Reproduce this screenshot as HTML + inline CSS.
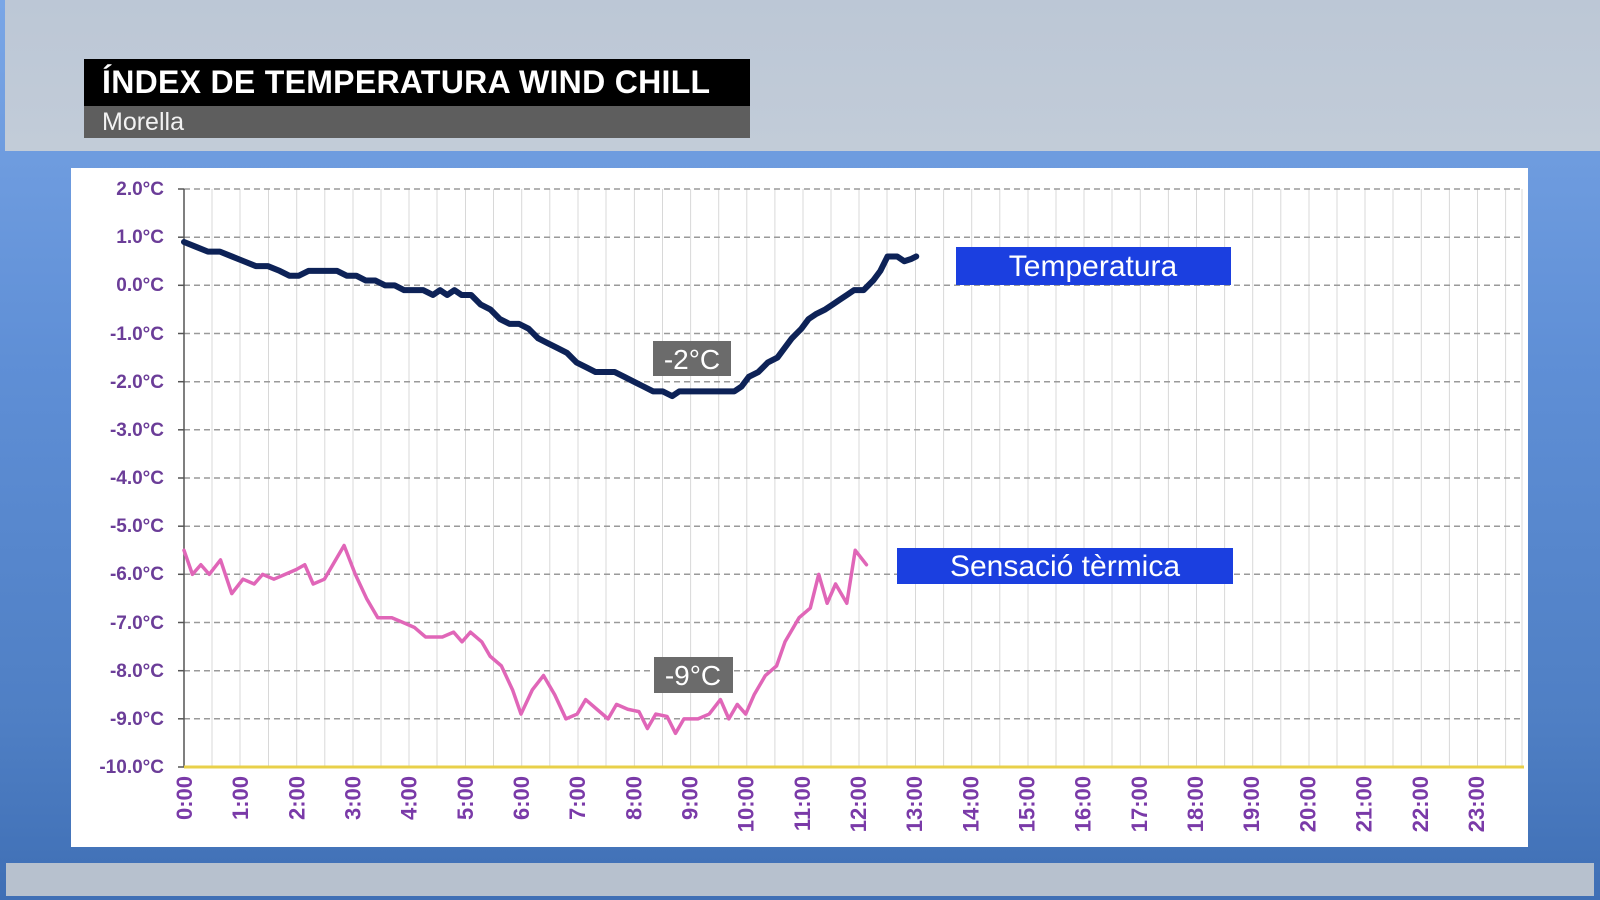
<!DOCTYPE html>
<html><head><meta charset="utf-8"><style>
html,body{margin:0;padding:0;width:1600px;height:900px;overflow:hidden;font-family:"Liberation Sans",sans-serif}
.bg{position:absolute;left:0;top:0;width:1600px;height:900px;background:linear-gradient(180deg,#7aa6e6 0%,#5f8fd6 40%,#4f7fc4 80%,#3f6fb5 100%)}
.top{position:absolute;left:5px;top:0;width:1595px;height:151px;background:linear-gradient(180deg,#bcc7d6,#c2ccd8)}
.bot{position:absolute;left:6px;top:863px;width:1588px;height:33px;background:#b7c1ce}
.t1{position:absolute;left:84px;top:59px;width:666px;height:47px;background:#000;color:#fff;font-size:32px;font-weight:bold;line-height:47px;padding-left:18px;box-sizing:border-box;letter-spacing:0.3px}
.t2{position:absolute;left:84px;top:106px;width:666px;height:32px;background:#5e5e5e;color:#f2f2f2;font-size:25px;line-height:32px;padding-left:18px;box-sizing:border-box}
.panel{position:absolute;left:71px;top:168px;width:1457px;height:679px;background:#fff}
</style></head><body>
<div class="bg"></div>
<div class="top"></div>
<div class="bot"></div>
<div class="t1">ÍNDEX DE TEMPERATURA WIND CHILL</div>
<div class="t2">Morella</div>
<div class="panel"></div>
<svg width="1600" height="900" style="position:absolute;left:0;top:0">
<g stroke="#d8d8d8" stroke-width="1">
<line x1="184" y1="189" x2="184" y2="767"/><line x1="212" y1="189" x2="212" y2="767"/><line x1="240" y1="189" x2="240" y2="767"/><line x1="268.5" y1="189" x2="268.5" y2="767"/><line x1="296.7" y1="189" x2="296.7" y2="767"/><line x1="324.8" y1="189" x2="324.8" y2="767"/><line x1="353" y1="189" x2="353" y2="767"/><line x1="381" y1="189" x2="381" y2="767"/><line x1="409" y1="189" x2="409" y2="767"/><line x1="437" y1="189" x2="437" y2="767"/><line x1="465.5" y1="189" x2="465.5" y2="767"/><line x1="493.5" y1="189" x2="493.5" y2="767"/><line x1="521.7" y1="189" x2="521.7" y2="767"/><line x1="549.8" y1="189" x2="549.8" y2="767"/><line x1="578" y1="189" x2="578" y2="767"/><line x1="606" y1="189" x2="606" y2="767"/><line x1="634.4" y1="189" x2="634.4" y2="767"/><line x1="662.5" y1="189" x2="662.5" y2="767"/><line x1="690.6" y1="189" x2="690.6" y2="767"/><line x1="718.7" y1="189" x2="718.7" y2="767"/><line x1="746.8" y1="189" x2="746.8" y2="767"/><line x1="774.9" y1="189" x2="774.9" y2="767"/><line x1="803" y1="189" x2="803" y2="767"/><line x1="831" y1="189" x2="831" y2="767"/><line x1="859" y1="189" x2="859" y2="767"/><line x1="887" y1="189" x2="887" y2="767"/><line x1="915.5" y1="189" x2="915.5" y2="767"/><line x1="943.6" y1="189" x2="943.6" y2="767"/><line x1="971.7" y1="189" x2="971.7" y2="767"/><line x1="999.8" y1="189" x2="999.8" y2="767"/><line x1="1028" y1="189" x2="1028" y2="767"/><line x1="1056" y1="189" x2="1056" y2="767"/><line x1="1084" y1="189" x2="1084" y2="767"/><line x1="1112" y1="189" x2="1112" y2="767"/><line x1="1140.3" y1="189" x2="1140.3" y2="767"/><line x1="1168.4" y1="189" x2="1168.4" y2="767"/><line x1="1196.5" y1="189" x2="1196.5" y2="767"/><line x1="1224.6" y1="189" x2="1224.6" y2="767"/><line x1="1252.7" y1="189" x2="1252.7" y2="767"/><line x1="1280.8" y1="189" x2="1280.8" y2="767"/><line x1="1309" y1="189" x2="1309" y2="767"/><line x1="1337" y1="189" x2="1337" y2="767"/><line x1="1365" y1="189" x2="1365" y2="767"/><line x1="1393" y1="189" x2="1393" y2="767"/><line x1="1421.3" y1="189" x2="1421.3" y2="767"/><line x1="1449.4" y1="189" x2="1449.4" y2="767"/><line x1="1477.5" y1="189" x2="1477.5" y2="767"/><line x1="1505.6" y1="189" x2="1505.6" y2="767"/>
<line x1="1522" y1="189" x2="1522" y2="767"/>
</g>
<g stroke="#9a9a9a" stroke-width="1.5" stroke-dasharray="6,4">
<line x1="184" y1="189" x2="1522" y2="189"/><line x1="184" y1="237.2" x2="1522" y2="237.2"/><line x1="184" y1="285.3" x2="1522" y2="285.3"/><line x1="184" y1="333.5" x2="1522" y2="333.5"/><line x1="184" y1="381.7" x2="1522" y2="381.7"/><line x1="184" y1="429.8" x2="1522" y2="429.8"/><line x1="184" y1="478" x2="1522" y2="478"/><line x1="184" y1="526.2" x2="1522" y2="526.2"/><line x1="184" y1="574.3" x2="1522" y2="574.3"/><line x1="184" y1="622.5" x2="1522" y2="622.5"/><line x1="184" y1="670.7" x2="1522" y2="670.7"/><line x1="184" y1="718.8" x2="1522" y2="718.8"/>
</g>
<line x1="184" y1="189" x2="184" y2="767" stroke="#555" stroke-width="1.5"/>
<g stroke="#555" stroke-width="1.5">
<line x1="178" y1="189" x2="184" y2="189"/><line x1="178" y1="237.2" x2="184" y2="237.2"/><line x1="178" y1="285.3" x2="184" y2="285.3"/><line x1="178" y1="333.5" x2="184" y2="333.5"/><line x1="178" y1="381.7" x2="184" y2="381.7"/><line x1="178" y1="429.8" x2="184" y2="429.8"/><line x1="178" y1="478" x2="184" y2="478"/><line x1="178" y1="526.2" x2="184" y2="526.2"/><line x1="178" y1="574.3" x2="184" y2="574.3"/><line x1="178" y1="622.5" x2="184" y2="622.5"/><line x1="178" y1="670.7" x2="184" y2="670.7"/><line x1="178" y1="718.8" x2="184" y2="718.8"/><line x1="178" y1="767" x2="184" y2="767"/>
</g>
<line x1="184" y1="767" x2="1524" y2="767" stroke="#e8d04a" stroke-width="3"/>
<g font-family="Liberation Sans, sans-serif" font-weight="bold" font-size="19" fill="#6b3d98" text-anchor="end">
<text x="164" y="195">2.0°C</text><text x="164" y="243">1.0°C</text><text x="164" y="291">0.0°C</text><text x="164" y="340">-1.0°C</text><text x="164" y="388">-2.0°C</text><text x="164" y="436">-3.0°C</text><text x="164" y="484">-4.0°C</text><text x="164" y="532">-5.0°C</text><text x="164" y="580">-6.0°C</text><text x="164" y="629">-7.0°C</text><text x="164" y="677">-8.0°C</text><text x="164" y="725">-9.0°C</text><text x="164" y="773">-10.0°C</text>
</g>
<g font-family="Liberation Sans, sans-serif" font-weight="bold" font-size="22" fill="#7a3aa8" text-anchor="end">
<text transform="translate(192,776) rotate(-90)">0:00</text>
<text transform="translate(248.2,776) rotate(-90)">1:00</text>
<text transform="translate(304.3,776) rotate(-90)">2:00</text>
<text transform="translate(360.5,776) rotate(-90)">3:00</text>
<text transform="translate(416.7,776) rotate(-90)">4:00</text>
<text transform="translate(472.9,776) rotate(-90)">5:00</text>
<text transform="translate(529,776) rotate(-90)">6:00</text>
<text transform="translate(585.2,776) rotate(-90)">7:00</text>
<text transform="translate(641.4,776) rotate(-90)">8:00</text>
<text transform="translate(697.5,776) rotate(-90)">9:00</text>
<text transform="translate(753.7,776) rotate(-90)">10:00</text>
<text transform="translate(809.9,776) rotate(-90)">11:00</text>
<text transform="translate(866,776) rotate(-90)">12:00</text>
<text transform="translate(922.2,776) rotate(-90)">13:00</text>
<text transform="translate(978.4,776) rotate(-90)">14:00</text>
<text transform="translate(1034.6,776) rotate(-90)">15:00</text>
<text transform="translate(1090.7,776) rotate(-90)">16:00</text>
<text transform="translate(1146.9,776) rotate(-90)">17:00</text>
<text transform="translate(1203.1,776) rotate(-90)">18:00</text>
<text transform="translate(1259.2,776) rotate(-90)">19:00</text>
<text transform="translate(1315.4,776) rotate(-90)">20:00</text>
<text transform="translate(1371.6,776) rotate(-90)">21:00</text>
<text transform="translate(1427.8,776) rotate(-90)">22:00</text>
<text transform="translate(1484,776) rotate(-90)">23:00</text>
</g>
<g transform="translate(184,189) scale(47.86,-48.17) translate(0,-2)" fill="none" stroke-linejoin="round" stroke-linecap="round">
<polyline vector-effect="non-scaling-stroke" stroke="#0d2257" stroke-width="6" points="0,0.9 0.25,0.8 0.5,0.7 0.75,0.7 1,0.6 1.25,0.5 1.5,0.4 1.75,0.4 2,0.3 2.2,0.2 2.4,0.2 2.6,0.3 2.8,0.3 3.2,0.3 3.4,0.2 3.6,0.2 3.8,0.1 4,0.1 4.2,0 4.4,0 4.6,-0.1 4.8,-0.1 5,-0.1 5.2,-0.2 5.35,-0.1 5.5,-0.2 5.65,-0.1 5.8,-0.2 6,-0.2 6.2,-0.4 6.4,-0.5 6.6,-0.7 6.8,-0.8 7,-0.8 7.2,-0.9 7.4,-1.1 7.6,-1.2 7.8,-1.3 8,-1.4 8.2,-1.6 8.4,-1.7 8.6,-1.8 8.8,-1.8 9,-1.8 9.2,-1.9 9.4,-2.0 9.6,-2.1 9.8,-2.2 10,-2.2 10.2,-2.3 10.35,-2.2 10.6,-2.2 11,-2.2 11.3,-2.2 11.5,-2.2 11.65,-2.1 11.8,-1.9 12,-1.8 12.2,-1.6 12.4,-1.5 12.55,-1.3 12.7,-1.1 12.9,-0.9 13.05,-0.7 13.2,-0.6 13.4,-0.5 13.55,-0.4 13.7,-0.3 13.85,-0.2 14,-0.1 14.2,-0.1 14.4,0.1 14.55,0.3 14.7,0.6 14.9,0.6 15.05,0.5 15.2,0.55 15.3,0.6"/>
</g>
<g transform="translate(184,189) scale(56.17,-48.17) translate(0,-2)" fill="none" stroke-linejoin="round" stroke-linecap="round">
<polyline vector-effect="non-scaling-stroke" stroke="#e066b8" stroke-width="3.5" points="0,-5.5 0.15,-6.0 0.3,-5.8 0.45,-6.0 0.65,-5.7 0.85,-6.4 1.05,-6.1 1.25,-6.2 1.4,-6.0 1.6,-6.1 1.8,-6.0 2.0,-5.9 2.15,-5.8 2.3,-6.2 2.5,-6.1 2.6,-5.9 2.85,-5.4 3.05,-6.0 3.25,-6.5 3.45,-6.9 3.7,-6.9 3.9,-7.0 4.1,-7.1 4.3,-7.3 4.6,-7.3 4.8,-7.2 4.95,-7.4 5.1,-7.2 5.3,-7.4 5.45,-7.7 5.65,-7.9 5.85,-8.4 6.0,-8.9 6.2,-8.4 6.4,-8.1 6.6,-8.5 6.8,-9.0 7.0,-8.9 7.15,-8.6 7.35,-8.8 7.55,-9.0 7.7,-8.7 7.9,-8.8 8.1,-8.85 8.25,-9.2 8.4,-8.9 8.6,-8.95 8.75,-9.3 8.9,-9.0 9.15,-9.0 9.35,-8.9 9.55,-8.6 9.7,-9.0 9.85,-8.7 10.0,-8.9 10.15,-8.5 10.35,-8.1 10.55,-7.9 10.7,-7.4 10.95,-6.9 11.15,-6.7 11.3,-6.0 11.45,-6.6 11.6,-6.2 11.8,-6.6 11.95,-5.5 12.15,-5.8"/>
</g>
<rect x="956" y="247" width="275" height="38" fill="#1b3fe0"/>
<text x="1093" y="276" text-anchor="middle" font-family="Liberation Sans, sans-serif" font-size="30" fill="#fff">Temperatura</text>
<rect x="897" y="548" width="336" height="36" fill="#1b3fe0"/>
<text x="1065" y="576" text-anchor="middle" font-family="Liberation Sans, sans-serif" font-size="30" fill="#fff">Sensació tèrmica</text>
<rect x="653" y="341" width="78" height="35" fill="#6b6b6b"/>
<text x="692" y="369" text-anchor="middle" font-family="Liberation Sans, sans-serif" font-size="28" fill="#fff">-2°C</text>
<rect x="654" y="657" width="79" height="36" fill="#6b6b6b"/>
<text x="693" y="685" text-anchor="middle" font-family="Liberation Sans, sans-serif" font-size="28" fill="#fff">-9°C</text>
</svg>
</body></html>
